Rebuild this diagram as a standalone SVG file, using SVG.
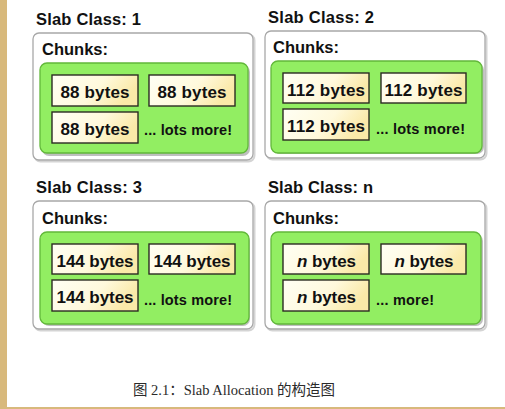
<svg xmlns="http://www.w3.org/2000/svg" width="505" height="409" viewBox="0 0 505 409">
<defs>
<linearGradient id="chunkGrad" x1="0" y1="0" x2="1" y2="0.3">
<stop offset="0" stop-color="#fffff4"/>
<stop offset="0.6" stop-color="#fff9dc"/>
<stop offset="1" stop-color="#fae9a8"/>
</linearGradient>
<style>
.bg{fill:#ffffff}
.tan{fill:#d8b97c}
.outer{fill:#ffffff;stroke:#a8a8a8;stroke-width:1.3}
.outerSh{fill:none;stroke:#d4d4d4;stroke-width:2}
.green{fill:#92ee62;stroke:#62b83a;stroke-width:1.3}
.greenSh{fill:#8a8a8a;opacity:0.55}
.chunk{fill:url(#chunkGrad);stroke:#2b2b22;stroke-width:1.4}
.title{font-family:"Liberation Sans",Arial,sans-serif;font-weight:bold;font-size:16.5px;fill:#111}
.ct{font-family:"Liberation Sans",Arial,sans-serif;font-weight:bold;font-size:17px;fill:#111;text-anchor:middle}
.more{font-family:"Liberation Sans",Arial,sans-serif;font-weight:bold;font-size:14.5px;fill:#111}
.cap{font-family:"Liberation Serif","Noto Sans CJK SC",serif;font-size:14.5px;fill:#2a2a2a}
</style>
</defs>
<rect class="bg" x="0" y="0" width="505" height="409"/>
<rect class="tan" x="0" y="0" width="7" height="409"/>
<rect class="tan" x="0" y="407" width="505" height="2"/>

<g id="slab1">
<text class="title" x="36" y="25" textLength="105">Slab Class: 1</text>
<rect class="outerSh" x="34.5" y="34.5" width="220" height="127" rx="6"/>
<rect class="outer" x="33" y="33" width="220" height="127" rx="6"/>
<text class="title" x="42" y="55" textLength="66">Chunks:</text>
<rect class="greenSh" x="42" y="65" width="208" height="91" rx="7"/>
<rect class="green" x="40" y="63" width="208" height="90" rx="7"/>
<g id="slab1-c1"><rect class="chunk" x="52" y="75" width="86" height="31"/><text class="ct" x="95" y="97.5" textLength="69">88 bytes</text></g>
<g id="slab1-c2"><rect class="chunk" x="149" y="75" width="86" height="31"/><text class="ct" x="192" y="97.5" textLength="69">88 bytes</text></g>
<g id="slab1-c3"><rect class="chunk" x="52" y="112" width="86" height="31"/><text class="ct" x="95" y="134.5" textLength="69">88 bytes</text></g>
<text class="more" x="144" y="135" textLength="88">... lots more!</text>
</g>

<g id="slab2">
<text class="title" x="268" y="23" textLength="106">Slab Class: 2</text>
<rect class="outerSh" x="266.5" y="32.5" width="220" height="127" rx="6"/>
<rect class="outer" x="265" y="31" width="220" height="127" rx="6"/>
<text class="title" x="273" y="53" textLength="66">Chunks:</text>
<rect class="greenSh" x="273" y="63" width="211" height="91" rx="7"/>
<rect class="green" x="271" y="61" width="211" height="92" rx="7"/>
<g id="slab2-c1"><rect class="chunk" x="283" y="73" width="86" height="30"/><text class="ct" x="326" y="95.5" textLength="78">112 bytes</text></g>
<g id="slab2-c2"><rect class="chunk" x="381" y="73" width="85" height="30"/><text class="ct" x="423.5" y="95.5" textLength="78">112 bytes</text></g>
<g id="slab2-c3"><rect class="chunk" x="283" y="109" width="86" height="31"/><text class="ct" x="326" y="131.5" textLength="78">112 bytes</text></g>
<text class="more" x="376" y="134" textLength="89">... lots more!</text>
</g>

<g id="slab3">
<text class="title" x="36" y="193" textLength="106">Slab Class: 3</text>
<rect class="outerSh" x="34.5" y="202.5" width="220" height="128" rx="6"/>
<rect class="outer" x="33" y="201" width="220" height="128" rx="6"/>
<text class="title" x="42" y="224" textLength="66">Chunks:</text>
<rect class="greenSh" x="42" y="234" width="208" height="92" rx="7"/>
<rect class="green" x="40" y="232" width="209" height="92" rx="7"/>
<g id="slab3-c1"><rect class="chunk" x="52" y="244" width="86" height="30"/><text class="ct" x="95" y="266.5" textLength="77">144 bytes</text></g>
<g id="slab3-c2"><rect class="chunk" x="149" y="244" width="86" height="30"/><text class="ct" x="192" y="266.5" textLength="77">144 bytes</text></g>
<g id="slab3-c3"><rect class="chunk" x="52" y="280" width="86" height="31"/><text class="ct" x="95" y="302.5" textLength="77">144 bytes</text></g>
<text class="more" x="144" y="305" textLength="88">... lots more!</text>
</g>

<g id="slabn">
<text class="title" x="268" y="193" textLength="105">Slab Class: n</text>
<rect class="outerSh" x="266.5" y="202.5" width="220" height="128" rx="6"/>
<rect class="outer" x="265" y="201" width="220" height="128" rx="6"/>
<text class="title" x="273" y="224" textLength="66">Chunks:</text>
<rect class="greenSh" x="273" y="234" width="210" height="92" rx="7"/>
<rect class="green" x="271" y="232" width="210" height="92" rx="7"/>
<g id="slabn-c1"><rect class="chunk" x="283" y="244" width="86" height="30"/><text class="ct" x="326.5" y="266.5" textLength="59"><tspan font-style="italic">n</tspan> bytes</text></g>
<g id="slabn-c2"><rect class="chunk" x="381" y="244" width="85" height="30"/><text class="ct" x="424" y="266.5" textLength="59"><tspan font-style="italic">n</tspan> bytes</text></g>
<g id="slabn-c3"><rect class="chunk" x="283" y="280" width="86" height="31"/><text class="ct" x="326.5" y="302.5" textLength="59"><tspan font-style="italic">n</tspan> bytes</text></g>
<text class="more" x="376" y="305" textLength="58">... more!</text>
</g>

<text class="cap" x="133" y="395" textLength="202">图 2.1：Slab Allocation 的构造图</text>
</svg>
